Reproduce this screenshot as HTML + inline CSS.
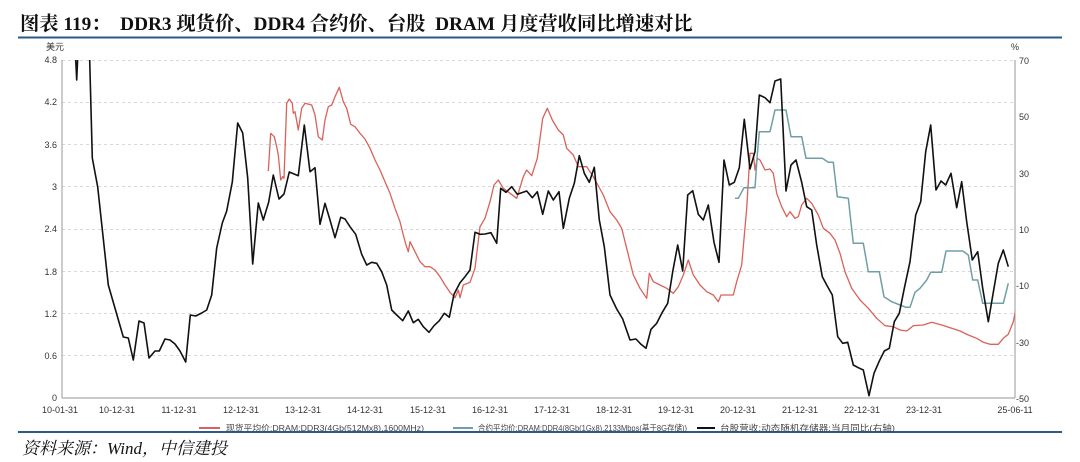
<!DOCTYPE html>
<html><head><meta charset="utf-8"><style>
html,body{margin:0;padding:0;background:#fff;}
body{width:1080px;height:462px;overflow:hidden;position:relative;}
.t{position:absolute;left:20px;top:8px;font-family:"Liberation Serif","Noto Serif CJK SC",serif;font-weight:bold;font-size:19.3px;color:#111;white-space:nowrap;}
.src{position:absolute;left:22px;top:434px;font-family:"Liberation Serif","Noto Serif CJK SC",serif;font-style:italic;font-size:17px;color:#111;white-space:nowrap;}
svg{position:absolute;left:0;top:0;}
</style></head><body>
<div class="t">图表 119：&nbsp; DDR3 现货价、DDR4 合约价、台股&nbsp; DRAM 月度营收同比增速对比</div>
<svg width="1080" height="462" xmlns="http://www.w3.org/2000/svg" font-family="Liberation Sans, Noto Sans CJK SC, sans-serif">
<defs><clipPath id="c"><rect x="62" y="60" width="953" height="340"/></clipPath></defs>
<line x1="18" y1="37.5" x2="1062" y2="37.5" stroke="#2a5a8c" stroke-width="2"/>
<line x1="18" y1="432" x2="1062" y2="432" stroke="#2a5a8c" stroke-width="2"/>
<g stroke="#d8d8d8" stroke-dasharray="3,3" stroke-width="1">
<line x1="62" y1="60.5" x2="1015" y2="60.5"/><line x1="62" y1="102.5" x2="1015" y2="102.5"/>
<line x1="62" y1="144.5" x2="1015" y2="144.5"/><line x1="62" y1="186.5" x2="1015" y2="186.5"/>
<line x1="62" y1="229.5" x2="1015" y2="229.5"/><line x1="62" y1="271.5" x2="1015" y2="271.5"/>
<line x1="62" y1="313.5" x2="1015" y2="313.5"/><line x1="62" y1="355.5" x2="1015" y2="355.5"/>
</g>
<g stroke="#aaa" stroke-width="1.2" fill="none">
<line x1="62" y1="60" x2="62" y2="398"/><line x1="1015" y1="60" x2="1015" y2="398"/>
<line x1="62" y1="398" x2="1015" y2="398"/>
</g>
<g stroke="#999" stroke-width="1" id="tk"></g>
<g font-size="9" fill="#333" text-anchor="end">
<text x="57" y="63">4.8</text><text x="57" y="105">4.2</text><text x="57" y="148">3.6</text><text x="57" y="190">3</text><text x="57" y="232">2.4</text><text x="57" y="275">1.8</text><text x="57" y="317">1.2</text><text x="57" y="359">0.6</text><text x="57" y="401">0</text>
<text x="64" y="50">美元</text>
</g>
<g font-size="9" fill="#333">
<text x="1019" y="64">70</text><text x="1019" y="120">50</text><text x="1019" y="177">30</text><text x="1019" y="233">10</text><text x="1016" y="289">-10</text><text x="1016" y="346">-30</text><text x="1016" y="402">-50</text>
<text x="1011" y="50">%</text>
</g>
<g font-size="9" fill="#333" text-anchor="middle">
<text x="60" y="413">10-01-31</text><text x="117" y="413">10-12-31</text><text x="179" y="413">11-12-31</text><text x="241" y="413">12-12-31</text><text x="303" y="413">13-12-31</text><text x="365" y="413">14-12-31</text><text x="428" y="413">15-12-31</text><text x="490" y="413">16-12-31</text><text x="552" y="413">17-12-31</text><text x="614" y="413">18-12-31</text><text x="676" y="413">19-12-31</text><text x="738" y="413">20-12-31</text><text x="800" y="413">21-12-31</text><text x="862" y="413">22-12-31</text><text x="924" y="413">23-12-31</text><text x="1015" y="413">25-06-11</text>
</g>
<g clip-path="url(#c)" fill="none" stroke-linejoin="round">
<polyline stroke="#d9625a" stroke-width="1.3" points="268.3,171 270.7,133.3 274.3,136.7 276.7,146.7 278.3,155 280.7,180 282.7,176.7 284,178.3 286.7,103.3 289.3,99 292.3,103.3 293.3,113.3 295,111.7 298.3,130 301.7,108.3 305,103.3 311.7,105 315,115 318.3,136.7 322.3,140 325,120 328.3,106.7 331.7,105 335,96.7 339.3,87.3 343.3,101.7 346.7,108.3 350.7,124.3 355,126.7 360,133.3 365,139 370,148.3 375,160 380,170 385,181.7 390,193.3 395,208.3 400,221.7 403.3,235 406,245 408.3,251.7 410,241.7 415,251.7 420,261.7 425,266.7 430,266.7 435,270 440,276.7 445,285 450,292.3 455,297.7 458.3,290 460,297.7 463.3,285 470,282.3 475,268.3 480,226.7 485,218.3 490,201.7 494,185 498.3,180 503.3,188.3 510,193.3 516.7,198.3 523.3,176.7 526.7,170 531.7,175.7 537.3,158.3 542.7,118.3 547.3,108.3 552.3,120 558.3,130 563.3,135 566.7,148.3 573.3,155 578.3,166.7 586.7,166.7 593.3,176.7 603.3,195 610,211.7 616.7,220 621.7,228.3 626.7,248.3 633.3,275 640,288.3 646.7,298.3 649.3,273.3 653.3,281.7 660,285 666.7,288.3 673.3,293.3 678.3,286.7 683.3,275 688.3,260 693.3,275 700,285 706.7,291.7 713.3,295 718.3,301.7 721,295 726.7,295 733.3,295 736.7,281.7 741.7,265 746.7,208.3 750,153.3 753.3,153.3 755,170 757.3,158.3 760,160 765,170 770,169 773.3,173.3 776.7,193.3 781.7,206.7 786.7,216.7 790,211.7 795,218.3 798.3,216.7 801.7,205 806.7,198.3 811.7,203.3 818.3,215 823.3,228.3 830,233.3 835,240 840,253.3 845,271.7 851.7,288.3 860,300 868.3,308.3 876.7,318.3 885,325.7 893.3,326.7 900,330 906.7,331 913.3,325.7 923.3,325 931.7,322.3 941.7,325 951.7,328.3 960,331 968.3,335 976.7,338.3 983.3,342.3 990,344.3 998.3,344.3 1003.3,338.3 1008.3,334.3 1013.3,321.7 1016,308.3"/>
<polyline stroke="#6f9fa6" stroke-width="1.5" points="735,198.3 738.3,198.3 744,187.7 755,187.7 757.3,155 759.3,131.7 770,131.7 775,110 786,110 791,136.7 801.7,136.7 806,158.3 822.3,158.3 828.3,162.3 833.3,162.3 837.3,196.7 848.3,198.3 853.3,243.3 863.3,243.3 868.3,271.7 879.3,271.7 884,296.7 891.7,301.7 900,305 906,307.3 910,307.3 915,292.3 920,288.3 926.7,280 930.7,272.3 941.7,272.3 946,251 962.7,251 968.3,255 972.7,280 977.7,280 982.7,303.3 1003.3,303.3 1008.3,283.3"/>
<polyline stroke="#111" stroke-width="1.6" points="75,45 76.7,80 78.3,45 89.3,45 92.3,158 97.7,187 108.3,285 123.3,337 128.3,338 133.3,360 139,321 144,323 149,358 155,351 159.3,351 165,339 170,340 175,344 180,351 185.7,362 190.3,315 195.7,316 201.7,313 206.7,310 211.7,295 216.7,248 222.3,223 226.7,211 232.3,182 237.7,123 242.7,133 247.7,178 252.7,264 258.3,203 263.3,220 268.7,202 273.3,175 279,199 284,194 289.3,172 298.3,175.7 304.3,125 310,171.7 315,167.7 320,224.3 325,203.3 330,220 335,237.7 340.7,217.3 345,219 350,226.7 355.7,234.3 361.7,254.3 366.7,265 371.7,262.3 376.7,263.3 381.7,271.7 386.7,285 391.7,310 396.7,315 402.7,320.7 408.3,311 413.3,322.7 418.3,319.3 423.3,326.7 429,332.3 434,325.7 439.3,320.7 444.3,313.3 449.3,317.3 454,294.3 460,282.7 465,276.7 470,270 475,232.3 480,234.3 485,234 491,232.7 496.7,243.3 500.7,188.3 506,192.3 511.7,186.7 517.3,194.3 526.7,191 532.3,197.7 537.3,191.7 542.7,214.3 548.3,191 553.3,200 559,191.7 563.3,228.3 569.3,198.3 574.3,183.3 579.3,155.7 584.3,173.3 589.3,182.3 594.3,167.3 599.3,220 604.3,246.7 610,295 616.7,309 622.7,319 630,340 636,339 641,344.3 646,348.3 651,329.3 656.7,323.3 662.3,312.3 667.7,303.3 672.7,271.7 677.7,245 682.7,271 687.7,195 692.7,190.7 698.3,214.3 703.3,220 708.3,205 714,242.3 719,262.3 724,160 729.3,185 734.3,182.3 739.3,167.7 744.3,119.3 750,169 755,151.7 759.3,95 765,97.7 770,102.7 775,81 780.7,79 786,191 791,165 796,160 801.7,182.3 806.7,206.7 811.7,210 816.7,245 822.3,276.7 826.7,285 832.3,295 837.7,336.7 842.7,343.3 847.7,342.3 853.3,365 858.3,367.7 863.3,370 869,395.7 874,373.3 879,361.7 884.3,351 889.3,348.3 894.3,321.7 899.3,313.3 904.3,288.3 910,261.7 915.7,215 920.7,201.7 925.7,151.7 930.7,125 936,190 941,181 945.7,185 951,173.3 956.7,207.7 961.7,181.7 966.7,221.7 972.3,260 977.7,251.7 982.7,288.3 988.3,321.7 993.3,292.3 998.3,263.3 1003.3,250 1008.3,266.7"/>
</g>
<g font-size="8.5" fill="#444">
<line x1="199" y1="428" x2="220" y2="428" stroke="#d9625a" stroke-width="2"/>
<text x="226" y="431" textLength="198" lengthAdjust="spacingAndGlyphs">现货平均价:DRAM:DDR3(4Gb(512Mx8),1600MHz)</text>
<line x1="453" y1="428" x2="473" y2="428" stroke="#6f9fa6" stroke-width="2"/>
<text x="478" y="431" textLength="209" lengthAdjust="spacingAndGlyphs">合约平均价:DRAM:DDR4(8Gb(1Gx8),2133Mbps(基于8G存储))</text>
<line x1="697" y1="428" x2="715" y2="428" stroke="#111" stroke-width="2"/>
<text x="720" y="431" textLength="175" lengthAdjust="spacingAndGlyphs">台股营收:动态随机存储器:当月同比(右轴)</text>
</g>
<script>
(function(){var g=document.getElementById('tk'),s='';
for(var i=0;i<=32;i++){var y=60+i*10.5625;s+='<line x1="58" y1="'+y+'" x2="62" y2="'+y+'"/>';}
for(var j=0;j<=18;j++){var y2=60+j*18.78;s+='<line x1="1015" y1="'+y2+'" x2="1019" y2="'+y2+'"/>';}
var xs=[62];for(var k=0;k<=13;k++)xs.push(117+k*62.1);
for(var k=0;k<=14;k++){xs.push(117+k*62.1-31);}
xs.push(1015);
xs.forEach(function(x){if(x>=62&&x<=1015)s+='<line x1="'+x+'" y1="398" x2="'+x+'" y2="402"/>';});
g.innerHTML=s;})();
</script>
</svg>
<div class="src">资料来源：Wind，中信建投</div>
</body></html>
